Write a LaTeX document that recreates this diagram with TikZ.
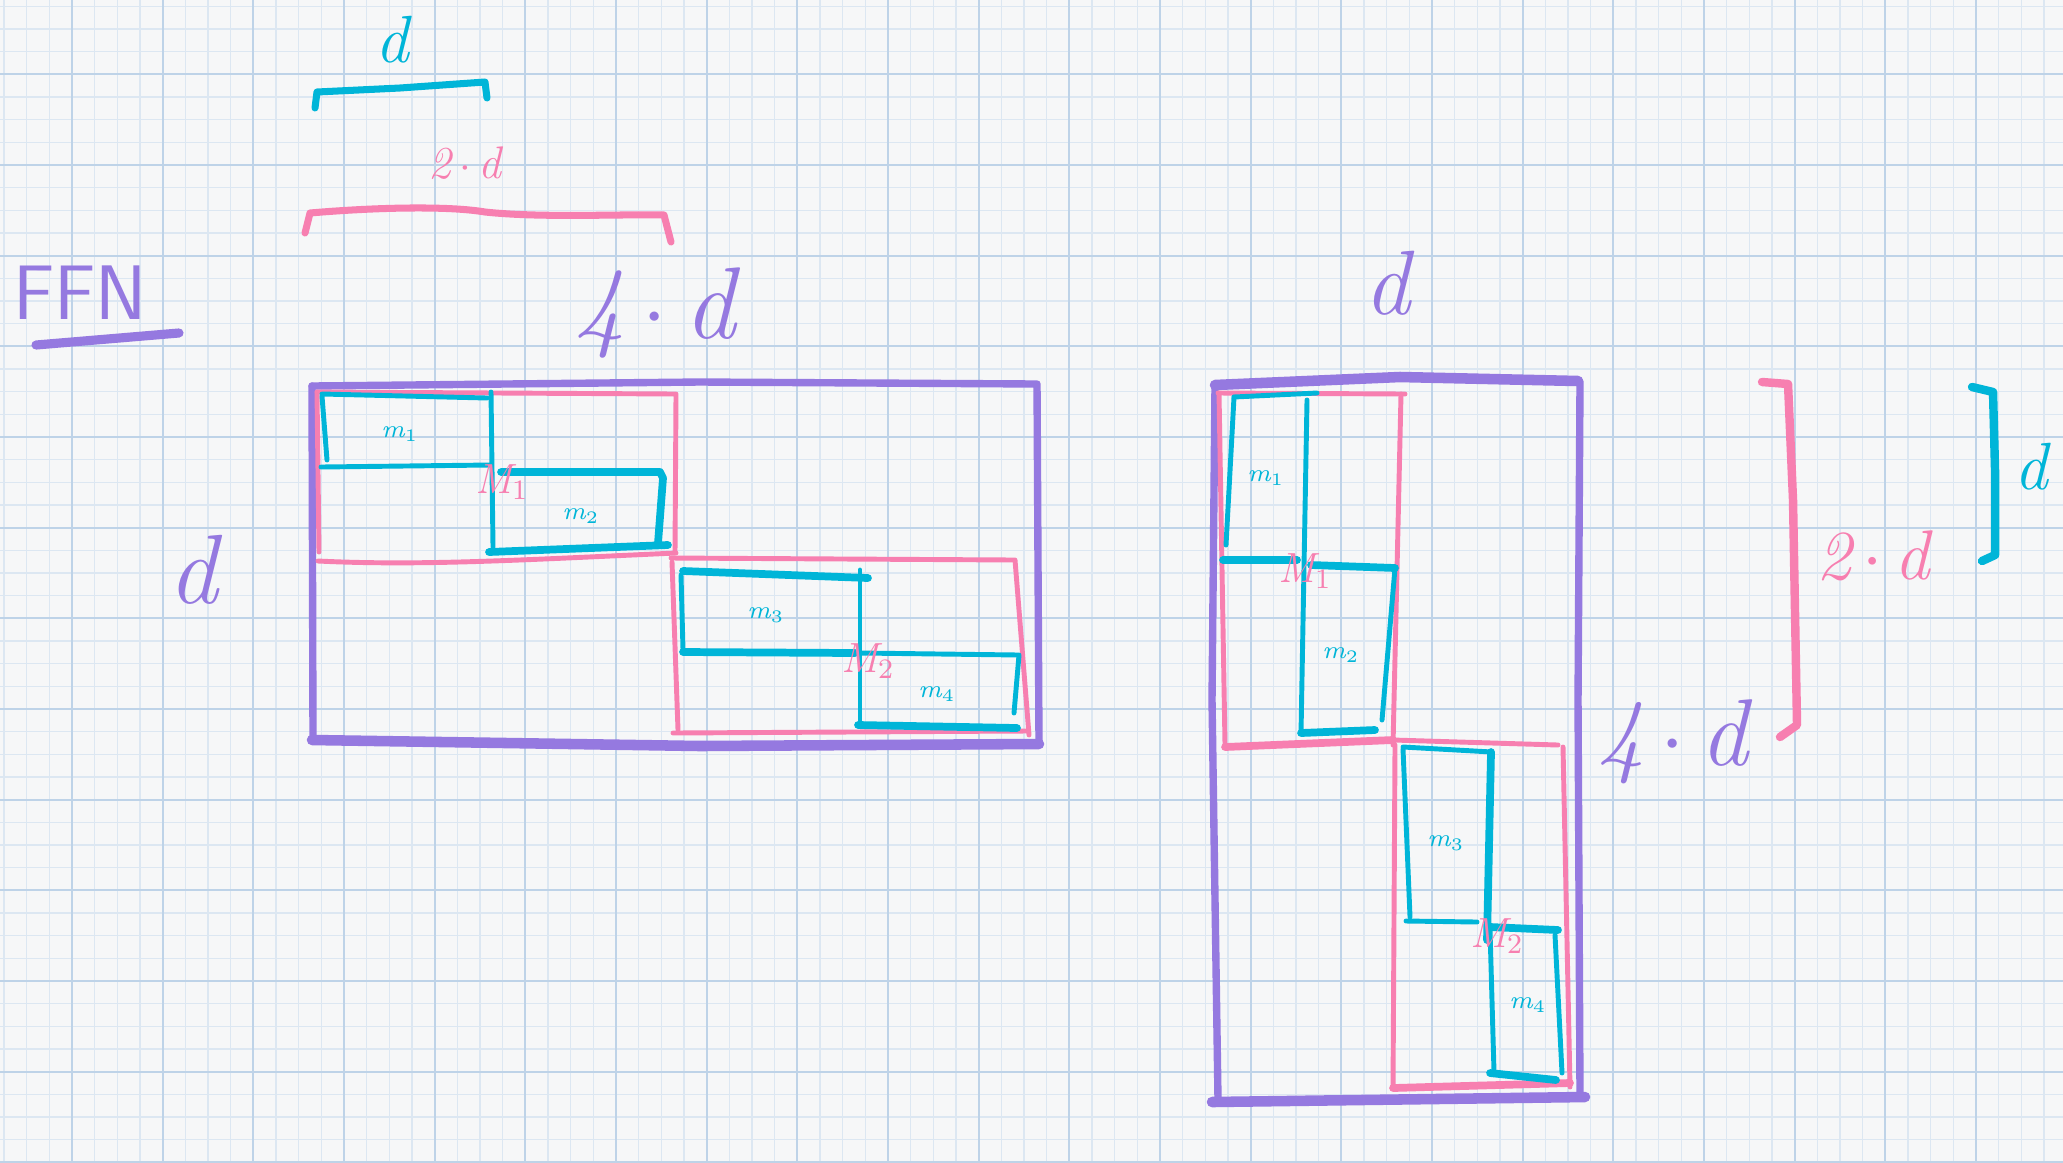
\documentclass[tikz,border=0pt]{standalone}
\usepackage{tikz}
\definecolor{cPur}{HTML}{9579E0}
\definecolor{cPink}{HTML}{F77FB0}
\definecolor{cCyan}{HTML}{00B5D8}
\definecolor{cPaper}{HTML}{F6F7F8}
\definecolor{cGridMinor}{HTML}{DCE7F2}
\definecolor{cGridMajor}{HTML}{BED3E8}
\tikzset{
  pur/.style={draw=cPur, line width=2.1pt, line cap=round, line join=round},
  purthick/.style={draw=cPur, line width=3pt, line cap=round, line join=round},
  pnk/.style={draw=cPink, line width=1.4pt, line cap=round, line join=round},
  pnkthick/.style={draw=cPink, line width=2.2pt, line cap=round, line join=round},
  cyn/.style={draw=cCyan, line width=1.4pt, line cap=round, line join=round},
  cynthick/.style={draw=cCyan, line width=2.2pt, line cap=round, line join=round},
  gridminor/.style={draw=cGridMinor, line width=0.35pt},
  gridmajor/.style={draw=cGridMajor, line width=0.6pt},
  hand/.style={inner sep=0pt, font=\itshape},
  mlab/.style={inner sep=0pt, text=cCyan, font=\fontsize{7}{8}\selectfont\itshape},
  Mlab/.style={inner sep=0pt, text=cPink, font=\fontsize{12}{13}\selectfont\itshape},
}
\begin{document}
\begin{tikzpicture}[x=0.1mm,y=-0.1mm]
\useasboundingbox (0,0) rectangle (2063,1162);
\fill[cPaper] (0,0) rectangle (2063,1162);
% grid paper
\foreach \i in {0,...,91} \draw[gridminor] ({4+22.667*\i},0) -- ({4+22.667*\i},1162);
\foreach \i in {0,...,51} \draw[gridminor] (0,{6.3+22.667*\i}) -- (2063,{6.3+22.667*\i});
\foreach \i in {0,...,22} \draw[gridmajor] ({72+90.667*\i},0) -- ({72+90.667*\i},1162);
\foreach \i in {0,...,12} \draw[gridmajor] (0,{74.3+90.667*\i}) -- (2063,{74.3+90.667*\i});

% ---------- top-left annotations ----------
\node[hand, text=cCyan, font=\fontsize{19}{20}\selectfont\itshape] (dTop) at (392,40) {d};
\draw[cyn, line width=2pt] (315,108) -- (317,92) -- (400,88) -- (485,82) -- (487,98);
\node[hand, text=cPink, font=\fontsize{13}{14}\selectfont\itshape] (twoDTop) at (465,163) {2\,$\cdot$\,d};
\draw[pnk, line width=2pt] (305,233) -- (310,213) .. controls (380,207) and (450,206) .. (485,212) .. controls (540,218) and (620,214) .. (664,215) -- (671,242);
\node[inner sep=0pt, text=cPur, font=\fontsize{22}{24}\selectfont\sffamily] (ffn) at (80,293) {FFN};
\draw[pur, line width=2.6pt] (36,345) -- (179,333);
\node[hand, text=cPur, font=\fontsize{29}{30}\selectfont\itshape] (fourDTop) at (655,313) {4\,$\cdot$\,d};
\node[hand, text=cPur, font=\fontsize{28}{30}\selectfont\itshape] (dLeft) at (193,570) {d};

% ---------- left matrix ----------
% purple outer frame
\draw[pur] (312,386) -- (700,382) -- (1037,384) -- (1039,745);
\draw[pur] (312,386) -- (313,740);
\draw[purthick] (312,740) -- (700,746) -- (1039,744);
% pink block 1
\draw[pnk] (317,392) -- (676,394) -- (675,552);
\draw[pnk] (317,392) -- (319,552);
\draw[pnk] (318,561) .. controls (420,566) and (520,560) .. (676,553);
% pink block 2
\draw[pnk] (671,558) -- (1015,560) -- (1029,735);
\draw[pnk] (672,562) -- (678,730);
\draw[pnk] (673,733) -- (1027,731);
% cyan m1 / m2
\draw[cyn] (322,394) -- (487,398);
\draw[cyn] (322,396) -- (327,460);
\draw[cyn] (321,467) -- (490,465);
\draw[cyn] (491,392) -- (493,547);
\draw[cynthick] (501,472) -- (660,472) -- (663,478) -- (658,543);
\draw[cynthick] (489,552) -- (668,545);
% cyan m3 / m4
\draw[cynthick] (683,571) -- (868,578);
\draw[cyn] (681,575) -- (683,650);
\draw[cynthick] (683,652) -- (855,653);
\draw[cyn] (860,570) -- (860,725);
\draw[cyn] (860,653) -- (1019,655) -- (1014,713);
\draw[cynthick] (858,725) -- (1017,728);
% labels
\node[mlab] (lm1) at (400,434) {m$_1$};
\node[mlab] (lm2) at (581,516) {m$_2$};
\node[mlab] (lm3) at (766,615) {m$_3$};
\node[mlab] (lm4) at (937,694) {m$_4$};
\node[Mlab] (lM1) at (502,482) {M$_1$};
\node[Mlab] (lM2) at (868,661) {M$_2$};

% ---------- right matrix ----------
\node[hand, text=cPur, font=\fontsize{26}{28}\selectfont\itshape] (dRightTop) at (1387,283) {d};
% purple outer frame
\draw[purthick] (1215,385) -- (1400,377) -- (1578,381);
\draw[pur] (1215,385) -- (1212,700) -- (1218,1100);
\draw[pur] (1580,382) -- (1578,700) -- (1580,1097);
\draw[purthick] (1212,1102) -- (1585,1097);
% pink block 1
\draw[pnk] (1218,393) -- (1405,394);
\draw[pnk] (1219,393) -- (1225,745);
\draw[pnk] (1401,394) -- (1393,745);
\draw[pnkthick] (1225,747) -- (1393,740);
% pink block 2
\draw[pnk] (1393,740) -- (1558,745);
\draw[pnk] (1395,745) -- (1393,1088);
\draw[pnkthick] (1393,1088) -- (1570,1083);
\draw[pnk] (1563,747) -- (1570,1087);
% cyan m1 / m2
\draw[cyn] (1234,397) -- (1317,393);
\draw[cyn] (1234,397) -- (1226,545);
\draw[cyn] (1307,400) -- (1301,733);
\draw[cynthick] (1223,560) -- (1297,560);
\draw[cynthick] (1311,565) -- (1395,568);
\draw[cyn] (1395,568) -- (1382,720);
\draw[cynthick] (1301,733) -- (1375,730);
% cyan m3 / m4
\draw[cyn] (1403,747) -- (1492,752);
\draw[cyn] (1403,749) -- (1410,917);
\draw[cynthick] (1491,752) -- (1487,940);
\draw[cyn] (1406,921) -- (1477,922);
\draw[cynthick] (1490,927) -- (1558,930);
\draw[cyn] (1555,935) -- (1562,1073);
\draw[cynthick] (1490,1073) -- (1556,1080);
\draw[cyn] (1490,930) -- (1494,1072);
% labels
\node[mlab] (rm1) at (1266,478) {m$_1$};
\node[mlab] (rm2) at (1341,655) {m$_2$};
\node[mlab] (rm3) at (1446,843) {m$_3$};
\node[mlab] (rm4) at (1528,1005) {m$_4$};
\node[Mlab] (rM1) at (1305,571) {M$_1$};
\node[Mlab] (rM2) at (1497,936) {M$_2$};
% right-side brackets
\draw[pnk, line width=2.4pt] (1762,382) -- (1788,384) -- (1793,500) -- (1797,725) -- (1780,737);
\node[hand, text=cPink, font=\fontsize{20}{22}\selectfont\itshape] (twoDRight) at (1873,556) {2\,$\cdot$\,d};
\draw[cyn, line width=2.4pt] (1972,387) -- (1993,392) -- (1995,470) -- (1995,555) -- (1982,561);
\node[hand, text=cCyan, font=\fontsize{19}{20}\selectfont\itshape] (dRight) at (2031,467) {d};
\node[hand, text=cPur, font=\fontsize{27}{28}\selectfont\itshape] (fourDRight) at (1673,742) {4\,$\cdot$\,d};
\end{tikzpicture}
\end{document}
